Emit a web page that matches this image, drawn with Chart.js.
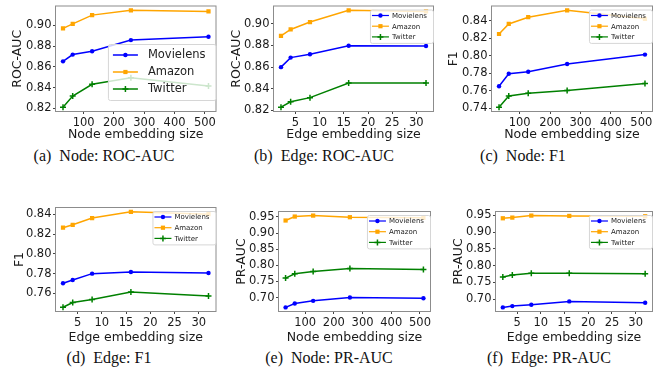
<!DOCTYPE html>
<html>
<head>
<meta charset="utf-8">
<script src="https://cdn.jsdelivr.net/npm/chart.js@4"></script>
<style>
  body { margin: 0; background: #fff; width: 668px; height: 379px; position: relative; overflow: hidden; }
  canvas { position: absolute; }
  .cap { position: absolute; width: 222px; text-align: center; font-family: "Liberation Serif", "DejaVu Serif", serif; font-size: 16px; line-height: 20px; color: #111; white-space: nowrap; }
</style>
</head>
<body>
<canvas id="chartA" width="222" height="145" style="left:0px;top:0px"></canvas>
<canvas id="chartB" width="222" height="145" style="left:223px;top:0px"></canvas>
<canvas id="chartC" width="222" height="145" style="left:446px;top:0px"></canvas>
<canvas id="chartD" width="222" height="150" style="left:0px;top:195px"></canvas>
<canvas id="chartE" width="222" height="150" style="left:223px;top:195px"></canvas>
<canvas id="chartF" width="222" height="150" style="left:446px;top:195px"></canvas>

<div class="cap" style="left:-7px;top:146px">(a)&nbsp; Node: ROC-AUC</div>
<div class="cap" style="left:213px;top:146px">(b)&nbsp; Edge: ROC-AUC</div>
<div class="cap" style="left:412px;top:146px">(c)&nbsp; Node: F1</div>
<div class="cap" style="left:-2px;top:348px">(d)&nbsp; Edge: F1</div>
<div class="cap" style="left:218px;top:348px">(e)&nbsp; Node: PR-AUC</div>
<div class="cap" style="left:438px;top:348px">(f)&nbsp; Edge: PR-AUC</div>

<script>
// x values and x tick labels
const nodeSizes = [32, 64, 128, 256, 512];
const edgeSizes = [2, 4, 8, 16, 32];
const nodeTicks = [100, 200, 300, 400, 500];
const edgeTicks = [5, 10, 15, 20, 25, 30];

// (a) Node: ROC-AUC
const nodeRocMovielens = [0.8653, 0.8718, 0.8750, 0.8857, 0.8890];
const nodeRocAmazon = [0.8970, 0.9013, 0.9097, 0.9143, 0.9133];
const nodeRocTwitter = [0.8213, 0.8320, 0.8433, 0.8495, 0.8417];
const nodeRocTicks = [0.82, 0.84, 0.86, 0.88, 0.90];

// (b) Edge: ROC-AUC
const edgeRocMovielens = [0.8600, 0.8688, 0.8719, 0.8798, 0.8795];
const edgeRocAmazon = [0.8890, 0.8948, 0.9017, 0.9125, 0.9115];
const edgeRocTwitter = [0.8230, 0.8280, 0.8318, 0.8453, 0.8453];
const edgeRocTicks = [0.82, 0.84, 0.86, 0.88, 0.90];

// (c) Node: F1
const nodeF1Movielens = [0.7654, 0.7796, 0.7819, 0.7908, 0.8015];
const nodeF1Amazon = [0.8250, 0.8365, 0.8442, 0.8520, 0.8423];
const nodeF1Twitter = [0.7415, 0.7542, 0.7573, 0.7604, 0.7685];
const nodeF1Ticks = [0.74, 0.76, 0.78, 0.80, 0.82, 0.84];

// (d) Edge: F1
const edgeF1Movielens = [0.7701, 0.7735, 0.7799, 0.7816, 0.7806];
const edgeF1Amazon = [0.8265, 0.8295, 0.8363, 0.8427, 0.8403];
const edgeF1Twitter = [0.7458, 0.7505, 0.7536, 0.7613, 0.7573];
const edgeF1Ticks = [0.76, 0.78, 0.80, 0.82, 0.84];

// (e) Node: PR-AUC
const nodePrMovielens = [0.6694, 0.6816, 0.6898, 0.7000, 0.6980];
const nodePrAmazon = [0.9388, 0.9510, 0.9540, 0.9490, 0.9470];
const nodePrTwitter = [0.7602, 0.7735, 0.7806, 0.7898, 0.7867];
const nodePrTicks = [0.70, 0.75, 0.80, 0.85, 0.90, 0.95];

// (f) Edge: PR-AUC
const edgePrMovielens = [0.6751, 0.6790, 0.6830, 0.6930, 0.6890];
const edgePrAmazon = [0.9410, 0.9430, 0.9490, 0.9480, 0.9470];
const edgePrTwitter = [0.7657, 0.7717, 0.7767, 0.7767, 0.7757];
const edgePrTicks = [0.70, 0.75, 0.80, 0.85, 0.90, 0.95];

const seriesNames = ['Movielens', 'Amazon', 'Twitter'];
const seriesColors = ['#0000ff', '#ffa500', '#008000'];
const seriesMarkers = ['circle', 'rect', 'cross'];

const bigLegend = { corner: 'lr', size: 11.5, padL: 5, handle: 25, gap: 10, padR: 10, padY: 11, row: 17, dx: 1, dy: 12, lw: 1.5 };
const smallLegend = { corner: 'ur', size: 7, padL: 2, handle: 17, gap: 3, padR: 6, padY: 6, row: 10.7, dx: 1, dy: 4, lw: 1.2 };

function drawMarker(ctx, style, x, y, color) {
    ctx.fillStyle = color;
    ctx.strokeStyle = color;
    ctx.beginPath();
    if (style === 'circle') {
        ctx.arc(x, y, 2.2, 0, Math.PI * 2);
        ctx.fill();
    } else if (style === 'rect') {
        ctx.fillRect(x - 2.1, y - 2.1, 4.2, 4.2);
    } else {
        ctx.lineWidth = 1.5;
        ctx.moveTo(x - 3, y); ctx.lineTo(x + 3, y);
        ctx.moveTo(x, y - 3); ctx.lineTo(x, y + 3);
        ctx.stroke();
    }
}

// plot frame + matplotlib style legend inside the axes
const frameLegend = {
    id: 'frameLegend',
    afterDraw(chart, args, o) {
        const { ctx, chartArea: a } = chart;
        ctx.save();
        ctx.strokeStyle = '#8c8c8c';
        ctx.lineWidth = 1;
        ctx.strokeRect(a.left + 0.5, a.top + 0.5, a.right - a.left - 1, a.bottom - a.top - 1);

        const ds = chart.data.datasets;
        ctx.font = o.size + 'px "DejaVu Sans"';
        const tw = Math.max(...ds.map(d => ctx.measureText(d.label).width));
        const w = o.padL + o.handle + o.gap + tw + o.padR;
        const h = o.padY * 2 + o.row * (ds.length - 1);
        const x = a.right - o.dx - w;
        const y = o.corner === 'lr' ? a.bottom - o.dy - h : a.top + o.dy;

        ctx.beginPath();
        ctx.roundRect(x + 0.5, y + 0.5, w, h, 2);
        ctx.fillStyle = 'rgba(255,255,255,0.8)';
        ctx.fill();
        ctx.strokeStyle = '#d6d6d6';
        ctx.lineWidth = 1;
        ctx.stroke();

        ds.forEach((d, i) => {
            const cy = y + o.padY + i * o.row;
            const hx = x + o.padL;
            ctx.strokeStyle = d.borderColor;
            ctx.lineWidth = o.lw;
            ctx.beginPath();
            ctx.moveTo(hx, cy); ctx.lineTo(hx + o.handle, cy);
            ctx.stroke();
            drawMarker(ctx, d.pointStyle, hx + o.handle / 2, cy, d.borderColor);
            ctx.fillStyle = '#222';
            ctx.textBaseline = 'middle';
            ctx.textAlign = 'left';
            ctx.fillText(d.label, hx + o.handle + o.gap, cy + 0.5);
        });
        ctx.restore();
    }
};

function makeChart(id, cfg) {
    const canvas = document.getElementById(id);
    const W = canvas.width, H = canvas.height;
    const [bl, bt, br, bb] = cfg.box; // plot box, relative to canvas
    const xs = cfg.xs;
    const allY = [].concat(...cfg.series);
    const yMin = Math.min(...allY), yMax = Math.max(...allY);
    const yPad = (yMax - yMin) * 0.05;
    const xPad = (xs[xs.length - 1] - xs[0]) * 0.055;
    const tickFont = { family: 'DejaVu Sans', size: 11.5 };
    const titleFont = { family: 'DejaVu Sans', size: 12.5, lineHeight: 1 };

    return new Chart(canvas.getContext('2d'), {
        type: 'line',
        data: {
            datasets: cfg.series.map((vals, i) => ({
                label: seriesNames[i],
                data: xs.map((x, j) => ({ x: x, y: vals[j] })),
                borderColor: seriesColors[i],
                backgroundColor: seriesColors[i],
                borderWidth: 1.5,
                pointStyle: seriesMarkers[i],
                pointRadius: i === 2 ? 3 : (i === 1 ? 3 : 2.2),
                pointBorderWidth: i === 2 ? 1.5 : 0,
                fill: false,
                tension: 0
            }))
        },
        options: {
            responsive: false,
            animation: false,
            events: [],
            layout: { padding: { left: 0, top: bt, right: W - br, bottom: 0 } },
            plugins: {
                legend: { display: false },
                tooltip: { enabled: false },
                frameLegend: cfg.legend
            },
            scales: {
                x: {
                    type: 'linear',
                    min: xs[0] - xPad,
                    max: xs[xs.length - 1] + xPad,
                    afterBuildTicks: s => { s.ticks = cfg.xTicks.map(v => ({ value: v })); },
                    afterFit: s => { s.height = H - bb; s.paddingLeft = 0; s.paddingRight = 0; },
                    ticks: { font: tickFont, color: '#1a1a1a', padding: 2, maxRotation: 0, autoSkip: false, callback: v => String(v) },
                    grid: { drawOnChartArea: false, drawTicks: true, tickLength: 2, color: '#444' },
                    border: { display: false },
                    title: { display: true, text: cfg.xTitle, font: titleFont, color: '#1a1a1a', padding: { top: 0, bottom: H - 6 - cfg.xTitleY - 4 } }
                },
                y: {
                    min: yMin - yPad,
                    max: yMax + yPad,
                    afterBuildTicks: s => { s.ticks = cfg.yTicks.map(v => ({ value: v })); },
                    afterFit: s => { s.width = bl; s.paddingTop = 0; s.paddingBottom = 0; },
                    ticks: { font: tickFont, color: '#1a1a1a', padding: 1.5, autoSkip: false, callback: v => v.toFixed(2) },
                    grid: { drawOnChartArea: false, drawTicks: true, tickLength: 2, color: '#444' },
                    border: { display: false },
                    title: { display: true, text: cfg.yTitle, font: titleFont, color: '#1a1a1a', padding: { top: cfg.yTitleX - 6, bottom: 0 } }
                }
            }
        },
        plugins: [frameLegend]
    });
}

makeChart('chartA', {
    xs: nodeSizes, xTicks: nodeTicks, yTicks: nodeRocTicks,
    series: [nodeRocMovielens, nodeRocAmazon, nodeRocTwitter],
    xTitle: 'Node embedding size', yTitle: 'ROC-AUC',
    box: [55, 5, 217, 112], xTitleY: 131, yTitleX: 17, legend: bigLegend
});
makeChart('chartB', {
    xs: edgeSizes, xTicks: edgeTicks, yTicks: edgeRocTicks,
    series: [edgeRocMovielens, edgeRocAmazon, edgeRocTwitter],
    xTitle: 'Edge embedding size', yTitle: 'ROC-AUC',
    box: [50, 5, 211, 112], xTitleY: 131, yTitleX: 13, legend: smallLegend
});
makeChart('chartC', {
    xs: nodeSizes, xTicks: nodeTicks, yTicks: nodeF1Ticks,
    series: [nodeF1Movielens, nodeF1Amazon, nodeF1Twitter],
    xTitle: 'Node embedding size', yTitle: 'F1',
    box: [45, 5, 207, 112], xTitleY: 131, yTitleX: 7, legend: smallLegend
});
makeChart('chartD', {
    xs: edgeSizes, xTicks: edgeTicks, yTicks: edgeF1Ticks,
    series: [edgeF1Movielens, edgeF1Amazon, edgeF1Twitter],
    xTitle: 'Edge embedding size', yTitle: 'F1',
    box: [55, 12, 217, 117], xTitleY: 139, yTitleX: 19, legend: smallLegend
});
makeChart('chartE', {
    xs: nodeSizes, xTicks: nodeTicks, yTicks: nodePrTicks,
    series: [nodePrMovielens, nodePrAmazon, nodePrTwitter],
    xTitle: 'Node embedding size', yTitle: 'PR-AUC',
    box: [55, 16, 208, 117], xTitleY: 139, yTitleX: 18, legend: smallLegend
});
makeChart('chartF', {
    xs: edgeSizes, xTicks: edgeTicks, yTicks: edgePrTicks,
    series: [edgePrMovielens, edgePrAmazon, edgePrTwitter],
    xTitle: 'Edge embedding size', yTitle: 'PR-AUC',
    box: [49, 16, 207, 117], xTitleY: 139, yTitleX: 12, legend: smallLegend
});
</script>
</body>
</html>
